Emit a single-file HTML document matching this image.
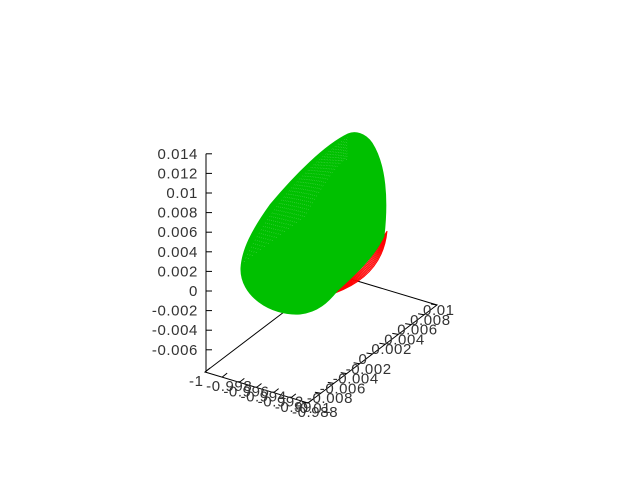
<!DOCTYPE html>
<html><head><meta charset="utf-8"><style>
body{margin:0;background:#fff}
svg{display:block;font-family:"Liberation Sans",sans-serif}
</style></head><body>
<svg id="c" width="640" height="480" xmlns="http://www.w3.org/2000/svg"></svg>
<script>
const zTicks=[-0.006,-0.004,-0.002,0,0.002,0.004,0.006,0.008,0.01,0.012,0.014];
const zLabels=["-0.006","-0.004","-0.002","0","0.002","0.004","0.006","0.008","0.01","0.012","0.014"];
const yTicks=[-0.01,-0.008,-0.006,-0.004,-0.002,0,0.002,0.004,0.006,0.008,0.01];
const yLabels=["-0.01","-0.008","-0.006","-0.004","-0.002","0","0.002","0.004","0.006","0.008","0.01"];
const xTicks=[-1,-0.998,-0.996,-0.994,-0.992,-0.99,-0.988];
const xLabels=["-1","-0.998","-0.996","-0.994","-0.992","-0.99","-0.988"];
const NS="http://www.w3.org/2000/svg";
const svg=document.getElementById('c');
function mk(t,a,p){const e=document.createElementNS(NS,t);for(const k in a)e.setAttribute(k,a[k]);(p||svg).appendChild(e);return e;}
const zs=v=>291-(v/0.002)*19.6;
const L=[205,372],B=[308,403],R=[437,305];
const xs=v=>{const f=(v+1)/0.012;return [L[0]+(B[0]-L[0])*f,L[1]+(B[1]-L[1])*f];};
const ys=v=>{const f=(v+0.01)/0.02;return [B[0]+(R[0]-B[0])*f,B[1]+(R[1]-B[1])*f];};
const K=[L[0]+R[0]-B[0],L[1]+R[1]-B[1]];
const ax=mk('g',{stroke:'#000','stroke-width':1,fill:'none'});

mk('path',{d:`M${L[0]},${L[1]}L${B[0]},${B[1]}L${R[0]},${R[1]}L${K[0]},${K[1]}Z M206,${zs(0.014)}L206,${L[1]}`},ax);
const tg=mk('g',{'font-size':15,'letter-spacing':0.6,fill:'#333'});
zTicks.forEach((v,i)=>{const y=zs(v);mk('line',{x1:206,y1:y,x2:212,y2:y,stroke:'#000'});const t=mk('text',{x:198,y:y+5,'text-anchor':'end'},tg);t.textContent=zLabels[i];
});
yTicks.forEach((v,i)=>{const p=ys(v);mk('line',{x1:p[0],y1:p[1],x2:p[0]-6,y2:p[1]-1,stroke:'#000'});const t=mk('text',{x:p[0]-14,y:p[1]+10,'text-anchor':'start'},tg);t.textContent=yLabels[i];
});
xTicks.forEach((v,i)=>{const p=xs(v);mk('line',{x1:p[0],y1:p[1],x2:p[0]+5,y2:p[1]-4,stroke:'#000'});const t=mk('text',{x:p[0]-16,y:p[1]+14,'text-anchor':'start'},tg);t.textContent=xLabels[i];
});
// red surface (wireframe)
const red=mk('g',{fill:'none',stroke:'#f00','stroke-width':1});

for(let k=0;k<10;k++){mk('path',{d:`M${387-k*0.4},${231+k*0.6} Q${383-k*1.6},${275-k*2} ${335+k*0.5},${293-k*0.4}`},red);}
// green surface
const g=mk('path',{d:'M241,268 C240,295 270,316 300,314 C318,312 328,302 337,291 C352,277 374,258 384,236 C388,200 386,165 372,143 C365,133 355,131 348,134 C325,145 295,175 270,205 C252,230 242,250 241,268Z',fill:'#00c000',stroke:'#00c000'});

for(let k=0;k<16;k++){mk('path',{d:`M${244+k*4},${262-k*3} Q${280+k*4},${185-k*2} ${348},${137+k*1.5}`,fill:'none',stroke:'#fff','stroke-width':0.4,opacity:0.5,'stroke-dasharray':'1 3'});}
</script>
</body></html>
